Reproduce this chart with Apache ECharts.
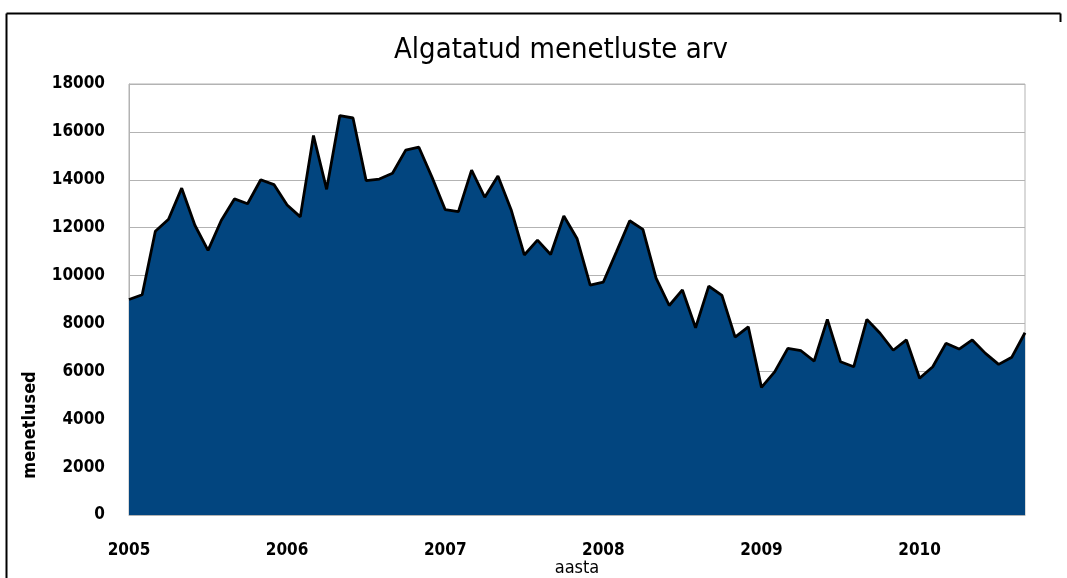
<!DOCTYPE html>
<html>
<head>
<meta charset="utf-8">
<script src="https://cdn.jsdelivr.net/npm/echarts@6/dist/echarts.min.js"></script>
<style>
html,body{margin:0;padding:0;background:#fff;}
#chart{width:1067px;height:578px;}
</style>
</head>
<body>
<div id="chart"></div>
<script>
var years = ['2005','2006','2007','2008','2009','2010'];
var values2005 = [9000, 9200, 11850, 12350, 13650, 12100, 11050, 12300, 13200, 13000, 14000, 13800];
var values2006 = [12950, 12450, 15850, 13600, 16680, 16580, 13960, 14030, 14270, 15240, 15360, 14100];
var values2007 = [12750, 12670, 14400, 13270, 14160, 12750, 10860, 11480, 10880, 12490, 11550, 9600];
var values2008 = [9730, 11000, 12290, 11930, 9890, 8750, 9400, 7820, 9560, 9170, 7430, 7860];
var values2009 = [5330, 5980, 6960, 6860, 6430, 8170, 6400, 6190, 8170, 7590, 6880, 7310];
var values2010 = [5710, 6190, 7170, 6930, 7310, 6750, 6290, 6590, 7610];
var yTicks = [0, 2000, 4000, 6000, 8000, 10000, 12000, 14000, 16000, 18000];

var allValues = [values2005, values2006, values2007, values2008, values2009, values2010];
var categories = [];
var data = [];
allValues.forEach(function (arr, yi) {
  arr.forEach(function (v, mi) {
    categories.push(years[yi] + '-' + (mi + 1));
    data.push(v);
  });
});

var narrow = "'Liberation Sans Narrow', 'DejaVu Sans Condensed', 'Liberation Sans', sans-serif";
var chart = echarts.init(document.getElementById('chart'));
chart.setOption({
  animation: false,
  backgroundColor: '#fff',
  title: {
    text: 'Algatatud menetluste arv',
    left: 389,
    top: 31,
    textStyle: { fontFamily: narrow, fontWeight: 'normal', fontSize: 29, color: '#000' }
  },
  grid: {
    left: 129, right: 42, top: 84, bottom: 63,
    outerBoundsMode: 'none',
    containLabel: false,
    show: true, borderColor: '#b3b3b3', borderWidth: 1, backgroundColor: 'transparent'
  },
  xAxis: {
    type: 'category',
    data: categories,
    boundaryGap: false,
    name: 'aasta',
    nameLocation: 'middle',
    nameGap: 44,
    nameMoveOverlap: false,
    nameTextStyle: { fontFamily: narrow, fontSize: 18, color: '#000', verticalAlign: 'top' },
    axisLine: { show: true, lineStyle: { color: '#b3b3b3' } },
    axisTick: { show: false },
    axisLabel: {
      interval: function (i) { return i % 12 === 0; },
      formatter: function (v) { return v.split('-')[0]; },
      margin: 27,
      fontFamily: narrow, fontWeight: 'bold', fontSize: 17, color: '#000'
    },
    splitLine: { show: false }
  },
  yAxis: {
    type: 'value',
    min: yTicks[0],
    max: yTicks[yTicks.length - 1],
    interval: 2000,
    axisLine: { show: true, lineStyle: { color: '#b3b3b3' } },
    axisTick: { show: false },
    axisLabel: {
      margin: 24, fontFamily: narrow, fontWeight: 'bold', fontSize: 17, color: '#000',
      formatter: function (v) { return String(v); }
    },
    splitLine: { show: true, lineStyle: { color: '#b3b3b3', width: 1 } }
  },
  graphic: [
    { type: 'line', shape: { x1: 6.5, y1: 13.5, x2: 1060.5, y2: 13.5 }, style: { stroke: '#000', lineWidth: 2 } },
    { type: 'line', shape: { x1: 6.5, y1: 13.5, x2: 6.5, y2: 578 }, style: { stroke: '#000', lineWidth: 2 } },
    { type: 'line', shape: { x1: 1060.5, y1: 13.5, x2: 1060.5, y2: 22 }, style: { stroke: '#000', lineWidth: 2 } },
    {
      type: 'text', x: 30, y: 425, rotation: Math.PI / 2,
      style: { text: 'menetlused', fontFamily: narrow, fontWeight: 'bold', fontSize: 18, fill: '#000', align: 'center', verticalAlign: 'middle' }
    }
  ],
  series: [{
    type: 'line',
    data: data,
    showSymbol: false,
    lineStyle: { color: '#000', width: 2.8 },
    areaStyle: { color: '#02457f', opacity: 1 }
  }]
});
</script>
</body>
</html>
